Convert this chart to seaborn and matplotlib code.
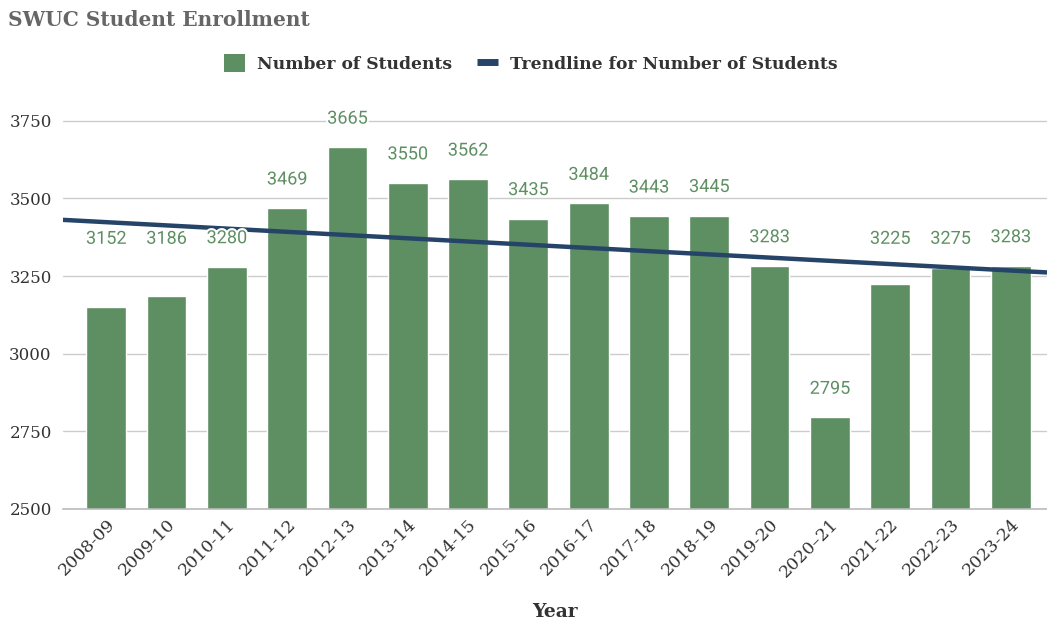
import numpy as np
import pandas as pd
import seaborn as sns
import matplotlib.pyplot as plt
import matplotlib.patheffects as pe
from matplotlib.patches import Patch
from matplotlib.lines import Line2D

years = ["2008-09", "2009-10", "2010-11", "2011-12", "2012-13", "2013-14",
         "2014-15", "2015-16", "2016-17", "2017-18", "2018-19", "2019-20",
         "2020\u201321", "2021-22", "2022-23", "2023-24"]
students = [3152, 3186, 3280, 3469, 3665, 3550, 3562, 3435, 3484, 3443,
            3445, 3283, 2795, 3225, 3275, 3283]
y_ticks = [2500, 2750, 3000, 3250, 3500, 3750]

GREEN = "#5e8f63"
NAVY = "#254468"


def main():
    df = pd.DataFrame({"Year": years, "Students": students})

    sns.set_style("white")
    plt.rcParams["font.family"] = ["DejaVu Serif"]

    fig = plt.figure(figsize=(10.47, 6.23), dpi=100)
    ax = fig.add_axes([0.060, 0.183, 0.940, 0.657])

    sns.barplot(data=df, x="Year", y="Students", color=GREEN, width=0.66,
                saturation=1, ax=ax, zorder=2)

    # linear trendline over the bars, drawn across the whole axis
    idx = np.arange(len(students))
    slope, icpt = np.polyfit(idx, students, 1)
    xl = (-0.72, len(students) - 0.4)
    xs = np.array(xl)
    ax.plot(xs, slope * xs + icpt, color=NAVY, lw=3.2, zorder=3,
            solid_capstyle="butt")
    ax.set_xlim(xl)
    ax.set_ylim(2500, 3818)

    # value labels; the ones sitting near the trendline are lifted up a bit
    for i, v in enumerate(students):
        ly = v + 92
        if 3000 < v < 3280:
            ly = 3370
        ax.text(i, ly, str(v), ha="center", va="center", color=GREEN,
                fontsize=13, family=["Roboto", "DejaVu Sans"], clip_on=False,
                zorder=4,
                path_effects=[pe.withStroke(linewidth=3, foreground="white")])

    ax.set_yticks(y_ticks)
    ax.set_yticklabels([str(t) for t in y_ticks], fontsize=12, color="#333333")
    ax.tick_params(axis="y", length=0, pad=8)
    ax.tick_params(axis="x", length=0, pad=5)
    plt.setp(ax.get_xticklabels(), rotation=45, ha="right",
             rotation_mode="anchor", fontsize=12.5, color="#333333")
    ax.yaxis.grid(True, color="#cccccc", lw=1, zorder=0)
    ax.set_axisbelow(True)
    for s in ["top", "right", "left"]:
        ax.spines[s].set_visible(False)
    ax.spines["bottom"].set_color("#bbbbbb")
    ax.spines["bottom"].set_linewidth(1.2)

    ax.set_xlabel("Year", fontsize=13.5, fontweight="bold", color="#333333",
                  labelpad=16)
    ax.set_ylabel("")

    fig.text(0.008, 0.968, "SWUC Student Enrollment", fontsize=14.5,
             fontweight="bold", color="#666666", va="center", ha="left")

    handles = [Patch(facecolor=GREEN, edgecolor="none"),
               Line2D([0], [0], color=NAVY, lw=5, solid_capstyle="butt")]
    fig.legend(handles, ["Number of Students",
                         "Trendline for Number of Students"],
               loc="center", bbox_to_anchor=(0.507, 0.898), ncol=2,
               frameon=False, handlelength=1.2, handleheight=1.2,
               columnspacing=1.5, handletextpad=0.7,
               prop={"weight": "bold", "size": 12.3})
    for t in fig.legends[0].get_texts():
        t.set_color("#333333")

    fig.savefig("out.png", dpi=100)


if __name__ == "__main__":
    main()
